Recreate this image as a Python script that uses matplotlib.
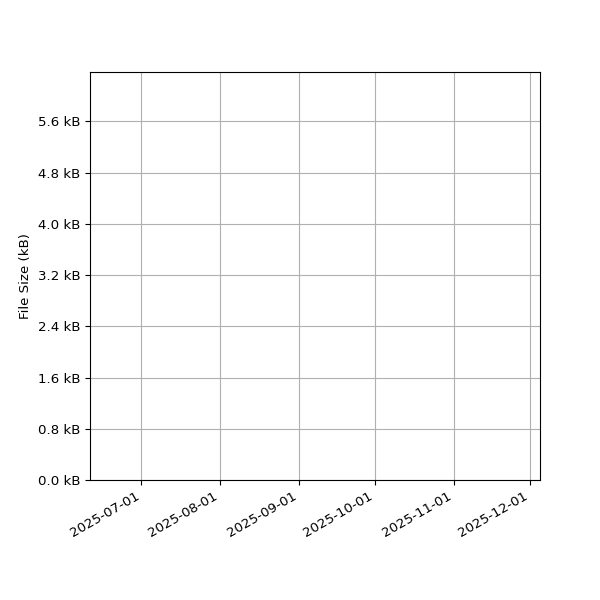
import numpy as np
import matplotlib
matplotlib.use('Agg')
import matplotlib.pyplot as plt
import matplotlib.dates as mdates
from matplotlib.ticker import FuncFormatter, MultipleLocator

plt.rcParams['font.size'] = 9.6

# no data points shown in the reference, only the axes range
dates = np.array([], dtype='datetime64[D]')
sizes_kb = np.array([], dtype=float)

x_start = np.datetime64('2025-06-10T18:00')
x_end = np.datetime64('2025-12-04T22:00')
y_max_kb = 6.37
tick_step_kb = 0.8

fig, ax = plt.subplots(figsize=(6, 6), dpi=100)
ax.plot(dates, sizes_kb)

ax.set_xlim(x_start, x_end)
ax.set_ylim(0, y_max_kb)
ax.xaxis.set_major_locator(mdates.MonthLocator())
ax.xaxis.set_major_formatter(mdates.DateFormatter('%Y-%m-%d'))
ax.yaxis.set_major_locator(MultipleLocator(tick_step_kb))
ax.yaxis.set_major_formatter(FuncFormatter(lambda v, p: f"{v:.1f} kB"))

ax.set_ylabel('File Size (kB)')
ax.grid(True)
fig.autofmt_xdate()
fig.subplots_adjust(left=0.15, right=0.9, top=0.88, bottom=0.2)

plt.savefig("out.png")
